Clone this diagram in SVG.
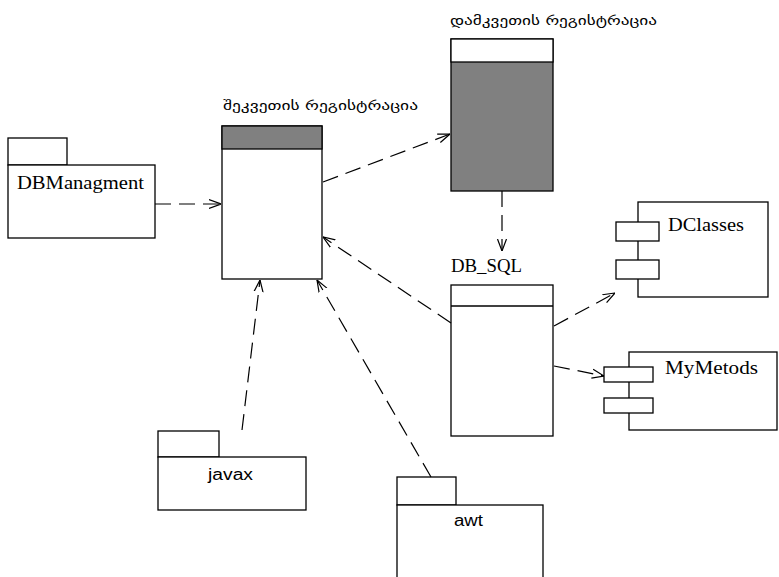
<svg xmlns="http://www.w3.org/2000/svg" width="779" height="577" viewBox="0 0 779 577">
<style>
.b{fill:#fff;stroke:#000;stroke-width:1.3}
.g{fill:#808080;stroke:#000;stroke-width:1.3}
.c{fill:none;stroke:#000;stroke-width:1.2;stroke-dasharray:16 8}
.s{font-family:"Liberation Serif",serif;font-size:19px;fill:#000}
.ss{font-family:"Liberation Sans","DejaVu Sans",sans-serif;font-size:16px;fill:#000}
.ge{font-family:"DejaVu Sans","Noto Sans",sans-serif;font-size:12px;fill:#000}
</style>
<defs>
<marker id="arr" viewBox="0 0 12 12" refX="12" refY="6" markerWidth="12" markerHeight="12" orient="auto" markerUnits="userSpaceOnUse">
<path d="M0,1.5 L12,6 L0,10.5" fill="none" stroke="#000" stroke-width="1.2"/>
</marker>
</defs>
<g id="DBManagment">
<rect class="b" x="8" y="138" width="59" height="27"/>
<rect class="b" x="8" y="165" width="147" height="73"/>
<text class="s" x="17" y="189" textLength="127" lengthAdjust="spacingAndGlyphs">DBManagment</text>
</g>
<g id="shekvetis">
<text class="ge" x="223" y="110" textLength="195" lengthAdjust="spacingAndGlyphs">შეკვეთის რეგისტრაცია</text>
<rect class="b" x="222" y="126" width="100" height="153"/>
<rect class="g" x="222" y="126" width="100" height="23"/>
</g>
<g id="damkvetis">
<text class="ge" x="450" y="25" textLength="207" lengthAdjust="spacingAndGlyphs">დამკვეთის რეგისტრაცია</text>
<rect class="g" x="451" y="39" width="102" height="152"/>
<rect class="b" x="451" y="39" width="102" height="23"/>
</g>
<g id="DB_SQL">
<text class="s" x="451" y="272" textLength="71" lengthAdjust="spacingAndGlyphs">DB_SQL</text>
<rect class="b" x="451" y="285" width="102" height="151"/>
<line x1="451" y1="306" x2="553" y2="306" stroke="#000" stroke-width="1.3"/>
</g>
<g id="DClasses">
<rect class="b" x="638" y="202" width="130" height="95"/>
<rect class="b" x="616" y="222" width="43" height="19"/>
<rect class="b" x="616" y="260" width="43" height="19"/>
<text class="s" x="668" y="231" textLength="76" lengthAdjust="spacingAndGlyphs">DClasses</text>
</g>
<g id="MyMetods">
<rect class="b" x="629" y="352" width="148" height="78"/>
<rect class="b" x="604" y="367" width="49" height="15"/>
<rect class="b" x="604" y="398" width="49" height="15"/>
<text class="s" x="665" y="374" textLength="93" lengthAdjust="spacingAndGlyphs">MyMetods</text>
</g>
<g id="javax">
<rect class="b" x="158" y="431" width="61" height="26"/>
<rect class="b" x="158" y="457" width="148" height="53"/>
<text class="ss" x="208" y="480" textLength="45" lengthAdjust="spacingAndGlyphs">javax</text>
</g>
<g id="awt">
<rect class="b" x="397" y="477" width="59" height="28"/>
<rect class="b" x="397" y="505" width="146" height="80"/>
<text class="ss" x="454" y="526" textLength="29" lengthAdjust="spacingAndGlyphs">awt</text>
</g>
<g id="connectors">
<path class="c" d="M155,204 L221,204" marker-end="url(#arr)"/>
<path class="c" d="M323,182 L450,134" marker-end="url(#arr)"/>
<path class="c" d="M502,191 L502,251" marker-end="url(#arr)"/>
<path class="c" d="M451,323 L323,237" marker-end="url(#arr)"/>
<path class="c" d="M242,430 L260,280" marker-end="url(#arr)"/>
<path class="c" d="M431,477 L317,280" marker-end="url(#arr)"/>
<path class="c" d="M554,326 L615,293" marker-end="url(#arr)"/>
<path class="c" d="M554,366 L604,376" marker-end="url(#arr)"/>
</g>
</svg>
